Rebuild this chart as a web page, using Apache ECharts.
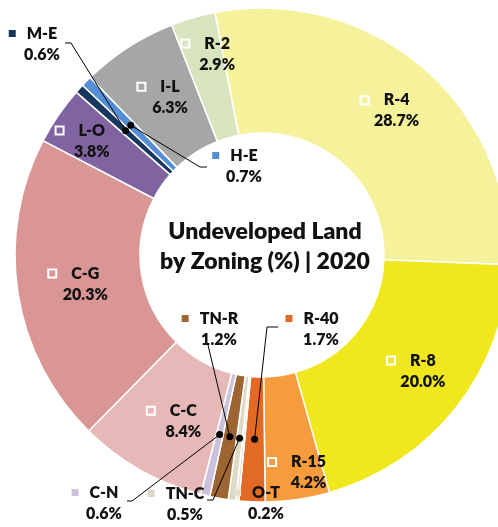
<!DOCTYPE html>
<html>
<head>
<meta charset="utf-8">
<script src="https://cdn.jsdelivr.net/npm/echarts@6/dist/echarts.min.js"></script>
<style>
html, body { margin: 0; padding: 0; background: #fff; }
#chart { width: 498px; height: 527px; }
</style>
</head>
<body>
<div id="chart"></div>
<script>
// zoning categories, clockwise from the top
var zones = ['R-4', 'R-8', 'R-15', 'R-40', 'O-T', 'TN-C', 'TN-R', 'C-N', 'C-C', 'C-G', 'L-O', 'M-E', 'H-E', 'I-L', 'R-2'];
var shares = [28.7, 20.0, 4.2, 1.7, 0.2, 0.5, 1.2, 0.6, 8.4, 20.3, 3.8, 0.6, 0.7, 6.3, 2.9];
var colors = ['#F6F19B', '#F0E81C', '#F69C3C', '#E36A25', '#E4E1CD', '#DDD9C4', '#9C6531', '#CCC1DA',
              '#E6B9B8', '#D99694', '#8064A2', '#17375E', '#558ED5', '#A6A6A6', '#D7E4BD'];

var CX = 262, CY = 255, R0 = 122, R1 = 247, START = 101;
var RMID = (R0 + R1) / 2;

// nudges for labels sitting on their slice
var insideShift = {
  'R-4': [1, -2], 'R-8': [2, 0], 'R-15': [8, 32], 'C-C': [2, 3],
  'C-G': [-3, 0], 'L-O': [-27, -8], 'I-L': [-2, 0], 'R-2': [-4, -21]
};
// labels placed off the ring, and the leader path from the label back to the slice
var outsideSpot = {
  'M-E': { at: [33, 44], path: [[71, 43], [65, 43]] },
  'H-E': { at: [235, 166], path: [[200, 167], [207, 167]] },
  'TN-R': { at: [210, 329], path: [[208, 345]] },
  'R-40': { at: [312, 329], path: [[267, 327], [278, 327]] },
  'C-N': { at: [95, 503], path: [[132, 501], [127, 501]] },
  'TN-C': { at: [176, 504], path: [[213, 500], [207, 500]] },
  'O-T': { at: [257, 503], path: null }
};

var total = shares.reduce(function (a, b) { return a + b; }, 0);
var run = 0;
var mids = shares.map(function (v) { var m = run + v / 2; run += v; return m; });

var data = zones.map(function (z, i) {
  var out = outsideSpot[z];
  var txt = '{k| }{g| }{n|' + z + '}\n{p| }{n|' + shares[i].toFixed(1) + '%}';
  return {
    name: z,
    value: shares[i],
    itemStyle: { color: colors[i] },
    label: {
      position: out ? 'outside' : 'inside',
      formatter: txt,
      rich: out ? {
        k: { width: 7, height: 7, backgroundColor: colors[i] },
        g: { width: 11 },
        p: { width: 18 },
        n: {}
      } : {
        k: { width: 8, height: 8, borderColor: '#fff', borderWidth: 2 },
        g: { width: 15 },
        p: { width: 23 },
        n: {}
      }
    }
  };
});

// leader anchors sit on the middle of the ring for each small slice
var leaders = [];
zones.forEach(function (z, i) {
  if (outsideSpot[z] && outsideSpot[z].path) leaders.push([RMID, mids[i], i]);
});

var chart = echarts.init(document.getElementById('chart'));
chart.setOption({
  animation: false,
  polar: { center: [CX, CY], radius: R1 },
  angleAxis: { type: 'value', min: 0, max: total, startAngle: START, clockwise: true, show: false },
  radiusAxis: { type: 'value', min: 0, max: R1, show: false },
  graphic: [{
    type: 'text',
    x: 265, y: 247,
    style: {
      text: 'Undeveloped Land\nby Zoning (%) | 2020',
      align: 'center', verticalAlign: 'middle',
      font: '800 23px Lato', lineHeight: 30, fill: '#111'
    },
    z: 10
  }],
  series: [{
    type: 'pie',
    center: [CX, CY],
    radius: [R0, R1],
    startAngle: START,
    clockwise: true,
    avoidLabelOverlap: false,
    silent: true,
    itemStyle: { borderColor: '#fff', borderWidth: 1.5 },
    label: {
      color: '#111', fontFamily: 'Lato', fontWeight: 800, fontSize: 16, lineHeight: 21
    },
    labelLine: { show: false },
    labelLayout: function (p) {
      var z = zones[p.dataIndex];
      var spot = outsideSpot[z];
      if (!spot) {
        var s = insideShift[z] || [0, 0];
        return { dx: s[0], dy: s[1] };
      }
      return { x: spot.at[0], y: spot.at[1], align: 'center', verticalAlign: 'middle' };
    },
    data: data
  }, {
    type: 'custom',
    coordinateSystem: 'polar',
    silent: true,
    z: 5,
    renderItem: function (params, api) {
      var p = api.coord([api.value(0), api.value(1)]);
      var spot = outsideSpot[zones[api.value(2)]];
      return {
        type: 'group',
        children: [{
          type: 'polyline',
          shape: { points: [p].concat(spot.path) },
          style: { stroke: '#000', lineWidth: 1, fill: null }
        }, {
          type: 'circle',
          shape: { cx: p[0], cy: p[1], r: 3.5 },
          style: { fill: '#000' }
        }]
      };
    },
    data: leaders
  }]
});
</script>
</body>
</html>
